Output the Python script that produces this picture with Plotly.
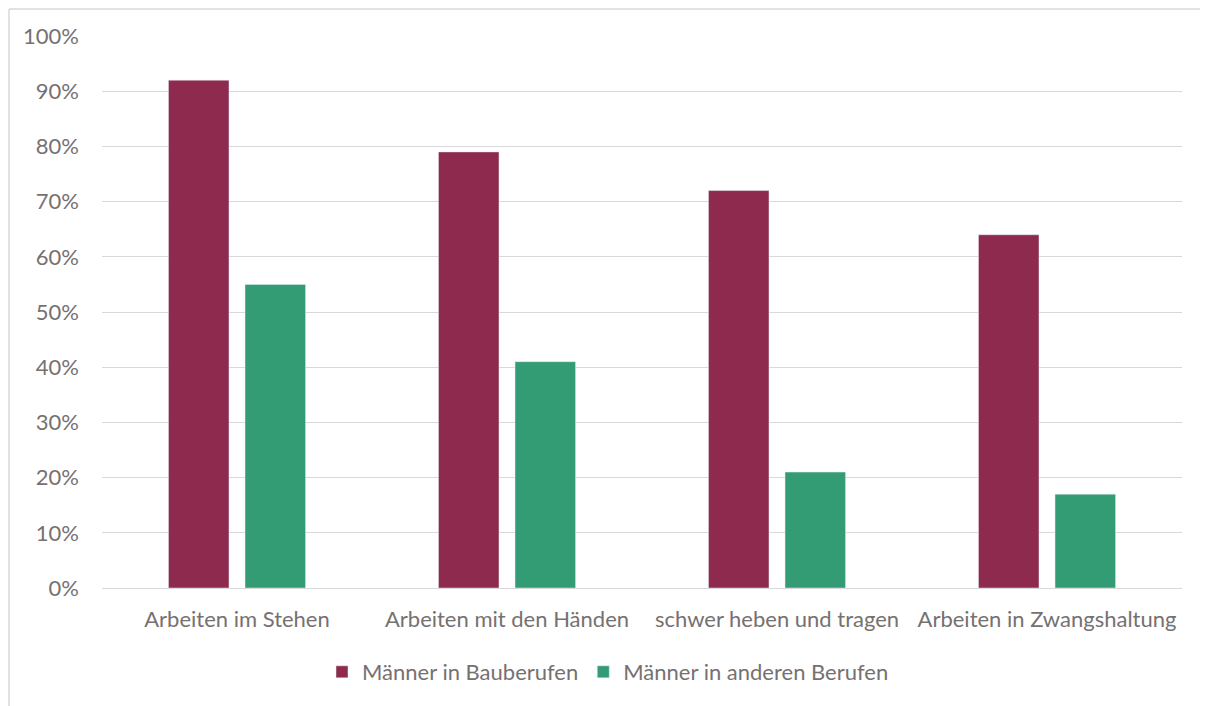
import plotly.graph_objects as go

categories = ["Arbeiten im Stehen", "Arbeiten mit den Händen", "schwer heben und tragen", "Arbeiten in Zwangshaltung"]
bau = [92, 79, 72, 64]
andere = [55, 41, 21, 17]
series_names = ["Männer in Bauberufen", "Männer in anderen Berufen"]
colors = ["#8D2A4D", "#339C74"]
tick_vals = [0, 10, 20, 30, 40, 50, 60, 70, 80, 90, 100]
tick_text = [f"{v}%" for v in tick_vals]

fig = go.Figure()
fig.add_trace(go.Bar(x=categories, y=bau, name=series_names[0], marker_color=colors[0]))
fig.add_trace(go.Bar(x=categories, y=andere, name=series_names[1], marker_color=colors[1]))

font_c = "#767171"
OFF = 8  # page body margin
W, H = 1200, 698
L, R, T, B = 102 - OFF, 26, 36 - OFF, 118
pw, ph = W - L - R, H - T - B

def px_x(x):
    return (x - L) / pw

def px_y(y):
    return (H - B - y) / ph

border = dict(color="#D9D9D9", width=1.5)
fig.update_layout(
    width=W, height=H,
    margin=dict(l=L, r=R, t=T, b=B),
    paper_bgcolor="white", plot_bgcolor="white",
    barmode="group", bargap=0.433, bargroupgap=0.209,
    font=dict(family="Lato, Carlito, sans-serif", size=22, color=font_c),
    legend=dict(orientation="h", x=px_x(608 - OFF), xanchor="center",
                y=px_y(672 - OFF), yanchor="middle",
                font=dict(size=22, color=font_c), itemwidth=30),
    xaxis=dict(showgrid=False, showline=True, linecolor="#D9D9D9", linewidth=1,
               ticks="", ticklabelstandoff=12, tickfont=dict(size=22, color=font_c)),
    yaxis=dict(range=[0, 100], tickvals=tick_vals, ticktext=tick_text,
               showgrid=True, gridcolor="#D9D9D9", gridwidth=1, zeroline=False,
               showline=False, ticks="", ticklabelstandoff=22,
               tickfont=dict(size=22, color=font_c)),
    shapes=[
        dict(type="line", xref="paper", yref="paper",
             x0=px_x(1), x1=px_x(W), y0=px_y(1), y1=px_y(1), line=border, layer="below"),
        dict(type="line", xref="paper", yref="paper",
             x0=px_x(1), x1=px_x(1), y0=px_y(1), y1=px_y(H), line=border, layer="below"),
    ],
)

fig.write_html("out.html")
